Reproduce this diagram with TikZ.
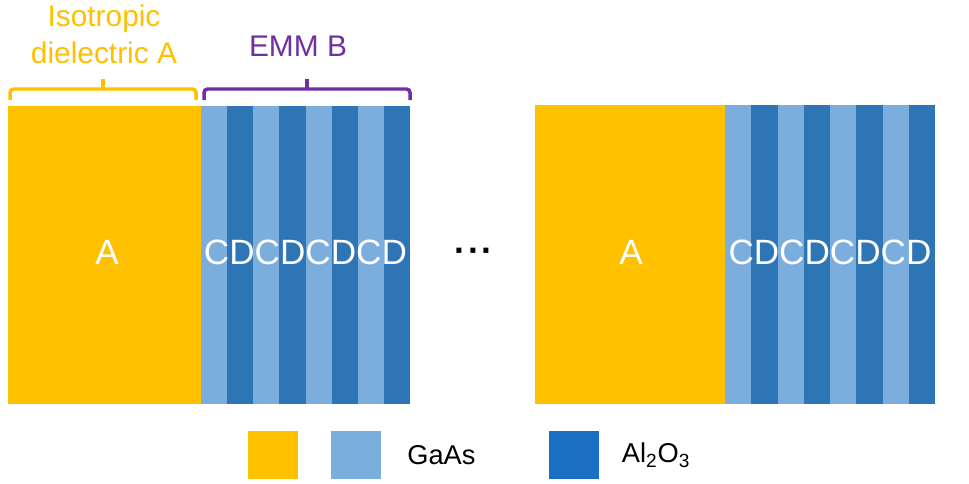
\documentclass[tikz,border=0pt]{standalone}
\usepackage{fontspec}
\setmainfont{Liberation Sans}
\usetikzlibrary{positioning}
\definecolor{amber}{HTML}{FFC000}
\definecolor{gaas}{HTML}{7BAEDD}
\definecolor{alox}{HTML}{2E75B6}
\definecolor{aloxkey}{HTML}{1B6FC2}
\definecolor{emm}{HTML}{7030A0}

\begin{document}
\begin{tikzpicture}[x=0.02cm,y=-0.02cm,
    layer/.style={white,inner sep=0pt,font=\fontsize{20}{24}\selectfont},
    brace/.style={line width=0.07cm,rounded corners=2pt},
    keybox/.style={inner sep=0pt,minimum width=1cm,minimum height=0.96cm},
    keytext/.style={inner sep=0pt,font=\fontsize{15.5}{18}\selectfont}]
        \useasboundingbox (0,0) rectangle (969,483);
        % first period
        \fill[amber] (8,106) rectangle (201,404);
        \foreach \i in {0,2,4,6}{
            \fill[gaas] (201+26.125*\i,106) rectangle (201+26.125*\i+26.125,404);
            \fill[alox] (201+26.125*\i+26.125,106) rectangle (201+26.125*\i+52.25,404);
        }
        \node[layer] (A1) at (107,252) {A};
        \node[layer] (B1) at (305.5,252) {CDCDCDCD};
        % second period
        \fill[amber] (535,105) rectangle (725,404);
        \foreach \i in {0,2,4,6}{
            \fill[gaas] (725+26.25*\i,105) rectangle (725+26.25*\i+26.25,404);
            \fill[alox] (725+26.25*\i+26.25,105) rectangle (725+26.25*\i+52.5,404);
        }
        \node[layer] (A2) at (631,252) {A};
        \node[layer] (B2) at (830,252) {CDCDCDCD};
        \node[anchor=base,inner sep=0pt,font=\fontsize{20}{24}\selectfont\bfseries] (dots) at (474,262) {·\hspace{1.2pt}·\hspace{1.2pt}·};
        % braces
        \draw[brace,amber] (10,100) -- (10,89) -- (196,89) -- (196,100);
        \draw[brace,amber] (103,89) -- (103,79);
        \draw[brace,emm] (204,100) -- (204,89) -- (410,89) -- (410,100);
        \draw[brace,emm] (307,89) -- (307,79);
        \node[amber,align=center,font=\fontsize{17}{21}\selectfont] (isoA) at (104,34) {Isotropic\\dielectric A};
        \node[emm,font=\fontsize{17}{21}\selectfont] (emmB) at (298,46) {EMM B};
        % legend
        \node[keybox,fill=amber] (keyA) at (273,455) {};
        \node[keybox,fill=gaas,right=0.64cm of keyA] (keyB) {};
        \node[keytext,right=0.52cm of keyB] (gaasText) {GaAs};
        \node[keybox,fill=aloxkey,right=1.46cm of gaasText] (keyC) {};
        \node[keytext,right=0.44cm of keyC] (aloxText) {Al\textsubscript{2}O\textsubscript{3}};
\end{tikzpicture}
\end{document}
